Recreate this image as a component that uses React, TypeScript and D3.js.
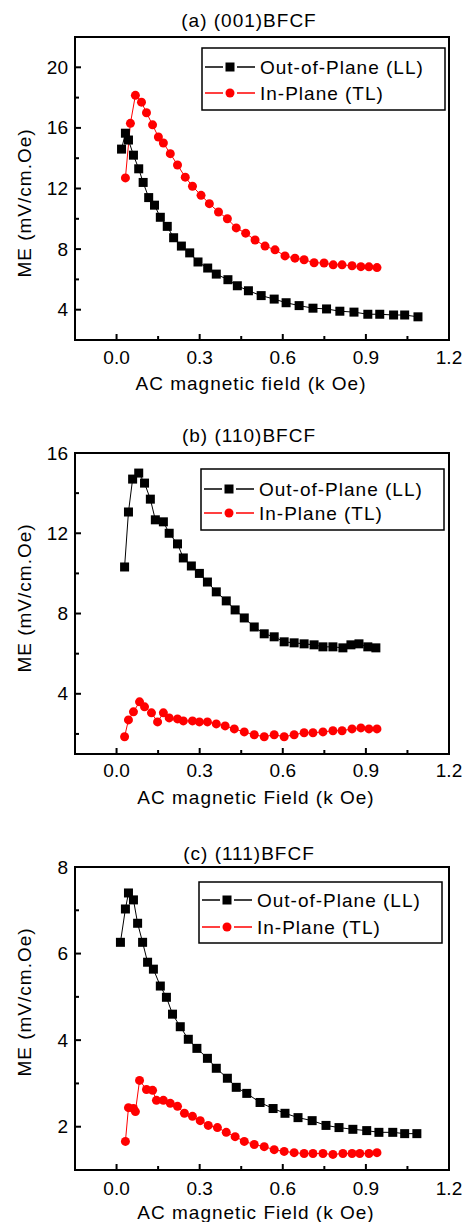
import React from 'react';
import * as d3 from 'd3';

// ---- data ----
// (a) (001)BFCF
const xA_LL = [0.018, 0.032, 0.043, 0.061, 0.08, 0.096, 0.116, 0.137, 0.158, 0.183, 0.206, 0.234, 0.264, 0.294, 0.329, 0.36, 0.402, 0.436, 0.476, 0.522, 0.569, 0.612, 0.659, 0.709, 0.758, 0.806, 0.857, 0.907, 0.95, 1.0, 1.04, 1.088];
const yA_LL = [14.6, 15.65, 15.2, 14.2, 13.3, 12.4, 11.4, 10.9, 10.1, 9.5, 8.75, 8.2, 7.75, 7.15, 6.75, 6.35, 5.98, 5.58, 5.25, 4.93, 4.7, 4.46, 4.27, 4.1, 4.05, 3.9, 3.84, 3.7, 3.7, 3.65, 3.65, 3.53];
const xA_TL = [0.032, 0.05, 0.068, 0.09, 0.108, 0.13, 0.151, 0.169, 0.194, 0.22, 0.248, 0.274, 0.305, 0.335, 0.368, 0.4, 0.432, 0.466, 0.5, 0.536, 0.572, 0.608, 0.644, 0.677, 0.713, 0.749, 0.782, 0.814, 0.85, 0.882, 0.911, 0.94];
const yA_TL = [12.7, 16.3, 18.15, 17.7, 17.0, 16.2, 15.4, 15.0, 14.3, 13.55, 12.75, 12.15, 11.55, 11.0, 10.45, 10.0, 9.4, 9.05, 8.6, 8.2, 7.95, 7.55, 7.4, 7.3, 7.1, 7.08, 6.96, 6.96, 6.9, 6.84, 6.83, 6.78];

// (b) (110)BFCF
const xB_LL = [0.029, 0.043, 0.058, 0.08, 0.101, 0.122, 0.14, 0.169, 0.19, 0.22, 0.241, 0.27, 0.299, 0.328, 0.36, 0.396, 0.428, 0.461, 0.497, 0.533, 0.569, 0.605, 0.641, 0.677, 0.713, 0.745, 0.781, 0.817, 0.846, 0.875, 0.907, 0.936];
const yB_LL = [10.32, 13.06, 14.7, 15.0, 14.5, 13.7, 12.67, 12.57, 12.0, 11.47, 10.77, 10.37, 10.0, 9.57, 9.08, 8.63, 8.18, 7.78, 7.33, 6.99, 6.84, 6.59, 6.54, 6.49, 6.44, 6.34, 6.34, 6.29, 6.44, 6.49, 6.34, 6.29];
const xB_TL = [0.029, 0.043, 0.061, 0.083, 0.101, 0.126, 0.148, 0.169, 0.19, 0.22, 0.241, 0.274, 0.299, 0.328, 0.36, 0.392, 0.425, 0.461, 0.497, 0.533, 0.569, 0.605, 0.641, 0.677, 0.709, 0.745, 0.781, 0.814, 0.85, 0.882, 0.911, 0.94];
const yB_TL = [1.86, 2.7, 3.1, 3.6, 3.35, 3.05, 2.6, 3.05, 2.8, 2.75, 2.65, 2.65, 2.6, 2.6, 2.5, 2.4, 2.25, 2.1, 1.96, 1.86, 1.96, 1.86, 1.96, 2.06, 2.06, 2.1, 2.16, 2.16, 2.25, 2.3, 2.25, 2.25];

// (c) (111)BFCF
const xC_LL = [0.014, 0.032, 0.043, 0.061, 0.076, 0.094, 0.112, 0.133, 0.158, 0.18, 0.202, 0.23, 0.259, 0.29, 0.328, 0.36, 0.4, 0.432, 0.47, 0.518, 0.565, 0.608, 0.655, 0.706, 0.756, 0.803, 0.853, 0.903, 0.947, 0.997, 1.04, 1.084];
const yC_LL = [6.26, 7.03, 7.4, 7.24, 6.7, 6.26, 5.8, 5.64, 5.25, 4.99, 4.6, 4.31, 4.02, 3.81, 3.58, 3.35, 3.12, 2.91, 2.77, 2.56, 2.42, 2.31, 2.21, 2.14, 2.03, 1.98, 1.94, 1.91, 1.87, 1.87, 1.84, 1.84];
const xC_TL = [0.032, 0.043, 0.061, 0.068, 0.083, 0.108, 0.13, 0.144, 0.169, 0.194, 0.22, 0.245, 0.274, 0.302, 0.331, 0.364, 0.396, 0.428, 0.461, 0.497, 0.533, 0.569, 0.605, 0.641, 0.677, 0.709, 0.745, 0.781, 0.817, 0.85, 0.878, 0.911, 0.94];
const yC_TL = [1.66, 2.44, 2.42, 2.35, 3.07, 2.86, 2.84, 2.61, 2.61, 2.54, 2.47, 2.31, 2.24, 2.14, 2.03, 1.98, 1.87, 1.77, 1.66, 1.59, 1.54, 1.47, 1.43, 1.4, 1.38, 1.38, 1.38, 1.36, 1.38, 1.38, 1.38, 1.38, 1.4];

const xTicks = [0.0, 0.3, 0.6, 0.9, 1.2];
const xMinor = [0.15, 0.45, 0.75, 1.05];
const seriesNames = ['Out-of-Plane (LL)', 'In-Plane (TL)'];

const FONT = "'Liberation Sans', Arial, sans-serif";
const LEFT = 75;
const RIGHT = 449;
const RED = '#ff0000';

type Panel = {
  title: string;
  xLabel: string;
  top: number;
  bottom: number;
  yDomain: [number, number];
  yTicks: number[];
  yMinor: number[];
  titleY: number;
  tickLabelY: number;
  xLabelY: number;
  xLabelX: number;
  yLabelY: number;
  legend: { x: number; y: number; w: number; h: number; rows: [number, number] };
  ll: [number[], number[]];
  tl: [number[], number[]];
};

const panels: Panel[] = [
  {
    title: '(a) (001)BFCF', xLabel: 'AC magnetic field (k Oe)',
    top: 37, bottom: 340, yDomain: [2, 22], yTicks: [4, 8, 12, 16, 20], yMinor: [6, 10, 14, 18],
    titleY: 20, tickLabelY: 357, xLabelY: 383, xLabelX: 251, yLabelY: 203,
    legend: { x: 202, y: 48, w: 243, h: 62, rows: [67, 93] },
    ll: [xA_LL, yA_LL], tl: [xA_TL, yA_TL],
  },
  {
    title: '(b) (110)BFCF', xLabel: 'AC magnetic Field (k Oe)',
    top: 453, bottom: 754, yDomain: [1, 16], yTicks: [4, 8, 12, 16], yMinor: [2, 6, 10, 14],
    titleY: 435, tickLabelY: 770, xLabelY: 797, xLabelX: 256, yLabelY: 598,
    legend: { x: 201, y: 469, w: 243, h: 61, rows: [489, 513] },
    ll: [xB_LL, yB_LL], tl: [xB_TL, yB_TL],
  },
  {
    title: '(c) (111)BFCF', xLabel: 'AC magnetic Field (k Oe)',
    top: 867, bottom: 1170, yDomain: [1, 8], yTicks: [2, 4, 6, 8], yMinor: [3, 5, 7],
    titleY: 853, tickLabelY: 1188, xLabelY: 1212, xLabelX: 256, yLabelY: 1002,
    legend: { x: 199, y: 882, w: 243, h: 61, rows: [900, 927] },
    ll: [xC_LL, yC_LL], tl: [xC_TL, yC_TL],
  },
];

function Square({ x, y }: { x: number; y: number }) {
  return <rect x={x - 4.5} y={y - 4.5} width={9} height={9} fill="#000" />;
}
function Dot({ x, y }: { x: number; y: number }) {
  return <circle cx={x} cy={y} r={4.5} fill={RED} />;
}

function ChartPanel({ p }: { p: Panel }) {
  const x = d3.scaleLinear().domain([-0.15, 1.2]).range([LEFT, RIGHT]);
  const y = d3.scaleLinear().domain(p.yDomain).range([p.bottom, p.top]);
  const line = d3.line<[number, number]>().x(d => x(d[0])).y(d => y(d[1]));
  const ll = p.ll[0].map((v, i) => [v, p.ll[1][i]] as [number, number]);
  const tl = p.tl[0].map((v, i) => [v, p.tl[1][i]] as [number, number]);
  const lg = p.legend;

  return (
    <g fontFamily={FONT} fill="#000">
      <text x={249} y={p.titleY} fontSize={19} letterSpacing={1} textAnchor="middle" dominantBaseline="central">{p.title}</text>

      {/* series */}
      <path d={line(ll) || ''} fill="none" stroke="#000" strokeWidth={1} />
      <path d={line(tl) || ''} fill="none" stroke={RED} strokeWidth={1} />
      {ll.map((d, i) => <Square key={'s' + i} x={x(d[0])} y={y(d[1])} />)}
      {tl.map((d, i) => <Dot key={'c' + i} x={x(d[0])} y={y(d[1])} />)}

      {/* frame */}
      <rect x={LEFT} y={p.top} width={RIGHT - LEFT} height={p.bottom - p.top} fill="none" stroke="#000" strokeWidth={2} />

      {/* x axis */}
      {xTicks.map(t => (
        <g key={'xt' + t}>
          <line x1={x(t)} x2={x(t)} y1={p.bottom} y2={p.bottom - 6} stroke="#000" strokeWidth={2} />
          <text x={x(t)} y={p.tickLabelY} fontSize={19} textAnchor="middle" dominantBaseline="central">{d3.format('.1f')(t)}</text>
        </g>
      ))}
      {xMinor.map(t => (
        <line key={'xm' + t} x1={x(t)} x2={x(t)} y1={p.bottom} y2={p.bottom - 4} stroke="#000" strokeWidth={2} />
      ))}
      <text x={p.xLabelX} y={p.xLabelY} fontSize={19} letterSpacing={1} textAnchor="middle" dominantBaseline="central">{p.xLabel}</text>

      {/* y axis */}
      {p.yTicks.map(t => (
        <g key={'yt' + t}>
          <line x1={LEFT} x2={LEFT + 6} y1={y(t)} y2={y(t)} stroke="#000" strokeWidth={2} />
          <text x={68} y={y(t)} fontSize={19} textAnchor="end" dominantBaseline="central">{t}</text>
        </g>
      ))}
      {p.yMinor.map(t => (
        <line key={'ym' + t} x1={LEFT} x2={LEFT + 4} y1={y(t)} y2={y(t)} stroke="#000" strokeWidth={2} />
      ))}
      <text transform={`translate(24,${p.yLabelY}) rotate(-90)`} fontSize={19} letterSpacing={1} textAnchor="middle" dominantBaseline="central">ME (mV/cm.Oe)</text>

      {/* legend */}
      <rect x={lg.x} y={lg.y} width={lg.w} height={lg.h} fill="#fff" stroke="#000" strokeWidth={1.5} />
      {seriesNames.map((name, i) => {
        const ry = lg.rows[i];
        const c = i === 0 ? '#000' : RED;
        return (
          <g key={name}>
            <line x1={lg.x + 3} x2={lg.x + 21} y1={ry} y2={ry} stroke={c} strokeWidth={1.5} />
            <line x1={lg.x + 35} x2={lg.x + 53} y1={ry} y2={ry} stroke={c} strokeWidth={1.5} />
            {i === 0 ? <Square x={lg.x + 28} y={ry} /> : <Dot x={lg.x + 28} y={ry} />}
            <text x={lg.x + 58} y={ry} fontSize={19} letterSpacing={1} dominantBaseline="central">{name}</text>
          </g>
        );
      })}
    </g>
  );
}

export default function App() {
  return (
    <svg width={464} height={1222} style={{ position: 'absolute', left: 0, top: 0, background: '#fff' }}>
      {panels.map(p => <ChartPanel key={p.title} p={p} />)}
    </svg>
  );
}
